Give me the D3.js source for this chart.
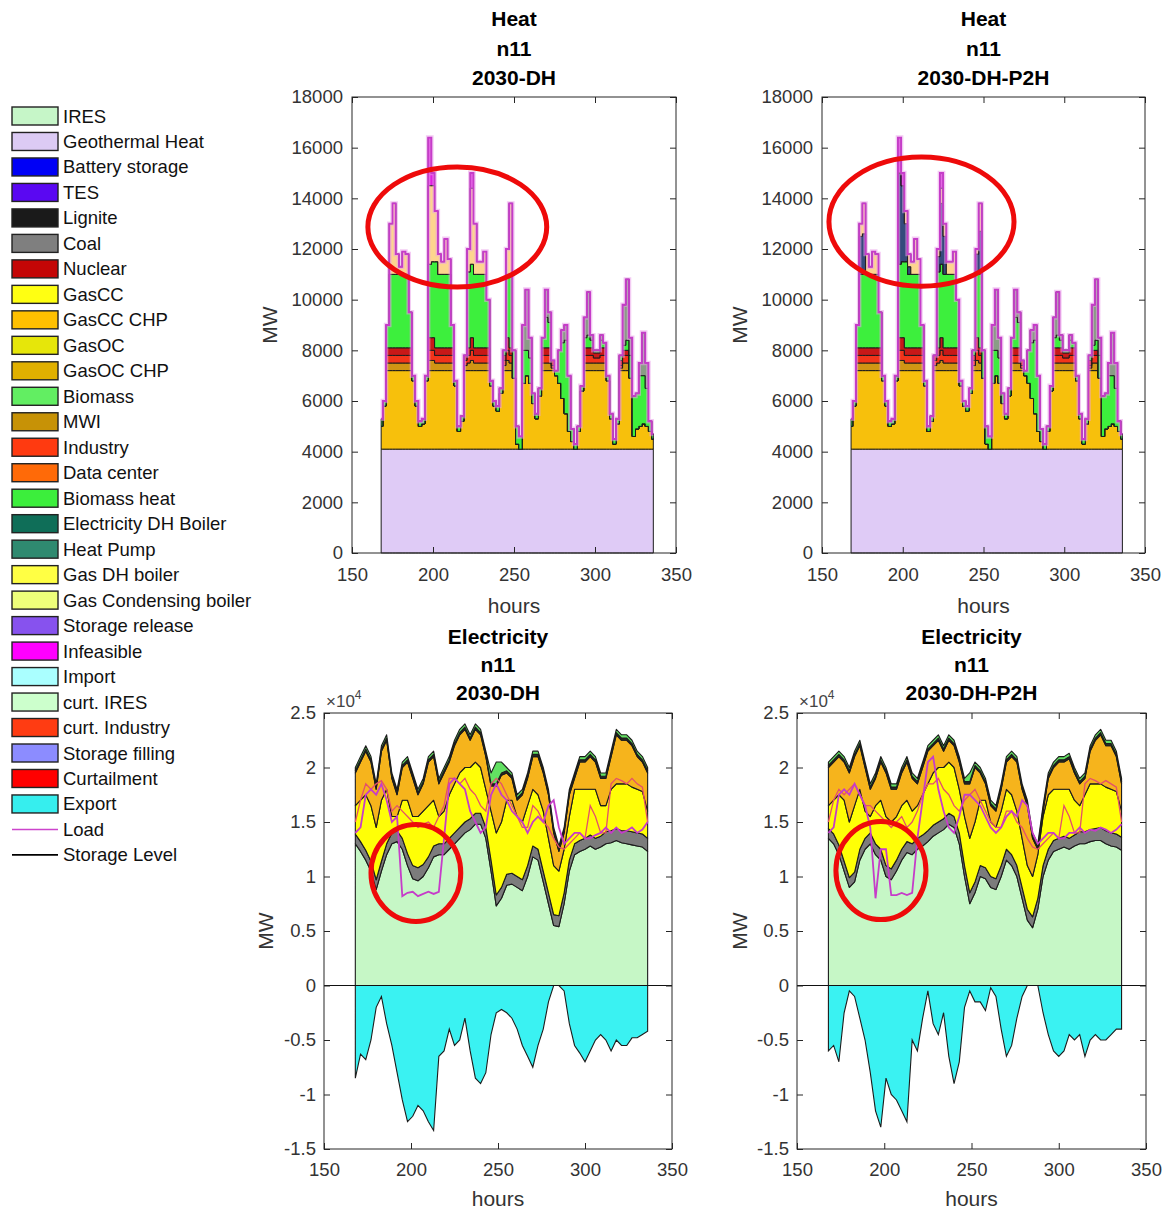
<!DOCTYPE html>
<html>
<head>
<meta charset="utf-8">
<script src="https://cdn.jsdelivr.net/npm/d3@7"></script>
<style>
  body { margin: 0; background: #fff; }
  svg text { font-family: "Liberation Sans", Arial, Helvetica, sans-serif; }
</style>
</head>
<body>
<script>
// ---------------- sample hours ----------------
const heatHours = d3.range(168, 337, 2);   // 2-hourly samples, week 2
const elecHours = d3.range(168, 337, 3);   // 3-hourly samples, week 2

// ---------------- heat balance, node n11 (MW) ----------------
const heatGeothermal = 4100;
const heatLoad = [
  5300,6000,9000,13000,13800,11800,11300,11900,11800,9500,
  7000,6000,5200,5300,7000,16400,15000,13500,11800,11500,
  12400,11600,9000,6800,5000,5400,7800,12000,15000,13000,
  11500,11500,11900,10000,6800,6000,5800,6500,8000,12000,
  13800,8000,5000,4600,9000,10400,8500,6300,5500,6500,
  8500,10400,9500,7600,7200,8000,8800,9000,7000,4900,
  4300,5000,6600,9300,10300,8600,8000,8000,8600,8300,
  7000,5500,4500,5300,7800,9800,10800,8500,6200,6300,
  7500,8700,7500,5200,4700];
const heatGasChp = [
  900,1700,3100,3100,3100,3100,3100,3100,3100,3100,
  2700,1700,900,1000,2700,3100,3100,3100,3100,3100,
  3100,3100,3100,2500,700,1100,3100,3100,3100,3100,
  3100,3100,3100,3100,2500,1700,1500,2200,3100,3100,
  3100,2800,200,0,2600,2900,2600,1800,1200,2100,
  3100,3100,3100,3100,2900,2600,2000,1400,700,300,
  0,700,2300,3100,3100,3100,3100,3100,3100,3100,
  2700,1200,200,1000,3100,3100,3100,2800,500,800,
  900,1000,900,700,400];
const heatMwi = [
  0,0,300,300,300,300,300,300,300,300,
  0,0,0,0,0,400,400,300,300,300,
  300,300,300,0,0,0,200,300,400,300,
  300,300,300,300,0,0,0,0,200,400,
  300,0,0,0,0,0,0,0,0,0,
  300,300,300,100,0,0,0,0,0,0,
  0,0,0,300,300,300,300,300,300,300,
  0,0,0,0,100,300,300,0,0,0,
  0,0,0,0,0];
const heatIndustry = [
  0,0,300,300,300,300,300,300,300,300,
  0,0,0,0,0,400,400,300,300,300,
  300,300,300,0,0,0,200,300,400,300,
  300,300,300,300,0,0,0,0,200,400,
  300,0,0,0,0,0,0,0,0,0,
  300,300,300,100,0,0,0,0,0,0,
  0,0,0,300,300,300,200,200,300,300,
  0,0,0,0,100,300,300,0,0,0,
  0,0,0,0,0];
const heatDataCenter = [
  0,0,300,300,300,300,300,300,300,300,
  0,0,0,0,0,500,500,300,300,300,
  300,300,300,0,0,0,200,300,500,300,
  300,300,300,300,0,0,0,0,200,500,
  300,0,0,0,0,0,0,0,0,0,
  300,300,300,200,0,0,0,0,0,0,
  0,0,0,300,300,300,200,200,300,300,
  0,0,0,0,200,200,200,0,0,0,
  0,0,0,0,0];
const heatBiomass = [
  300,200,900,2900,2900,2900,2900,2900,2900,1400,
  200,200,200,200,200,2900,3000,3400,2900,2900,
  2900,2900,900,200,200,200,0,3000,2900,2900,
  2900,2900,2900,1900,200,200,200,200,200,2500,
  2900,1100,700,500,1300,1000,1000,400,200,300,
  400,1200,1000,0,200,1300,2200,2900,2200,500,
  200,200,200,400,500,300,100,100,300,200,
  200,200,200,200,200,200,400,900,1600,1400,
  2000,1900,1500,400,200];
const heatPump = [
  0,0,0,0,0,0,0,0,0,0,
  0,0,0,0,0,0,0,0,0,0,
  0,0,0,0,0,0,0,0,0,0,
  0,0,0,0,0,0,0,0,0,0,
  0,0,0,0,1000,2400,800,0,0,0,
  0,1100,400,0,0,0,500,600,0,0,
  0,0,0,800,1700,200,0,0,200,0,
  0,0,0,0,0,1600,2400,700,0,0,
  500,1700,1000,0,0];
// peak supply, scenario 2030-DH
const heatGasBoilerDH = [
  0,0,0,2000,2800,800,300,900,800,0,
  0,0,0,0,0,3100,3000,2000,800,500,
  1400,600,0,0,0,0,0,900,3000,2000,
  500,500,900,0,0,0,0,0,0,1000,
  2800,0,0,0,0,0,0,0,0,0,
  0,0,0,0,0,0,0,0,0,0,
  0,0,0,0,0,0,0,0,0,0,
  0,0,0,0,0,0,0,0,0,0,
  0,0,0,0,0];
const heatInfeasibleDH = [
  0,0,0,0,0,0,0,0,0,0,
  0,0,0,0,0,1900,500,0,0,0,
  0,0,0,0,0,0,0,0,600,0,
  0,0,0,0,0,0,0,0,0,0,
  0,0,0,0,0,0,0,0,0,0,
  0,0,0,0,0,0,0,0,0,0,
  0,0,0,0,0,0,0,0,0,0,
  0,0,0,0,0,0,0,0,0,0,
  0,0,0,0,0];
// peak supply, scenario 2030-DH-P2H
const heatElecBoilerP2H = [
  0,0,0,1500,1600,0,0,0,0,0,
  0,0,0,0,0,3600,3000,1500,300,0,
  0,0,0,0,0,0,0,600,2400,1500,
  0,0,0,0,0,0,0,0,0,800,
  1700,0,0,0,0,0,0,0,0,0,
  0,0,0,0,0,0,0,0,0,0,
  0,0,0,0,0,0,0,0,0,0,
  0,0,0,0,0,0,0,0,0,0,
  0,0,0,0,0];
const heatGasBoilerP2H = [
  0,0,0,500,1200,800,300,900,800,0,
  0,0,0,0,0,0,0,500,500,500,
  1400,600,0,0,0,0,0,300,600,500,
  500,500,900,0,0,0,0,0,0,200,
  1100,0,0,0,0,0,0,0,0,0,
  0,0,0,0,0,0,0,0,0,0,
  0,0,0,0,0,0,0,0,0,0,
  0,0,0,0,0,0,0,0,0,0,
  0,0,0,0,0];
const heatInfeasibleP2H = [
  0,0,0,0,0,0,0,0,0,0,
  0,0,0,0,0,1400,500,0,0,0,
  0,0,0,0,0,0,0,0,600,0,
  0,0,0,0,0,0,0,0,0,0,
  0,0,0,0,0,0,0,0,0,0,
  0,0,0,0,0,0,0,0,0,0,
  0,0,0,0,0,0,0,0,0,0,
  0,0,0,0,0,0,0,0,0,0,
  0,0,0,0,0];

// ---------------- electricity balance, node n11 (MW) ----------------
// scenario 2030-DH
const elecIresDH = [
  13000,12300,11500,10500,8800,10500,12000,13000,13200,12500,
  11000,9800,9600,10000,10800,11800,12000,12000,12500,13000,
  13500,14000,14300,14800,14800,13500,10500,7300,8000,9200,
  9300,9000,8700,10000,11800,11500,9500,7500,5500,5400,
  7500,10500,12000,12300,12500,12800,12500,12700,13000,13100,
  13300,13100,13000,12900,12800,12700,12300];
const elecCoalDH = [
  900,900,900,900,900,900,1000,1000,1000,1000,
  1100,1200,1200,1100,1000,1000,1000,1000,1000,1000,
  1000,1000,1000,1000,1000,1000,1000,1000,1000,1000,
  1000,1000,1000,1000,1000,1000,1000,1000,1000,1000,
  1000,1000,1000,1000,1000,1000,1000,1000,1100,1100,
  1100,1100,1200,1200,1200,1200,1200];
const elecGasCCDH = [
  2600,3800,5100,5100,4800,5600,5000,1500,1300,3500,
  4900,4500,4700,4900,4700,4200,2500,3000,4000,4500,
  5000,5000,4700,4700,4200,3500,4500,5700,6000,6800,
  6700,5500,5300,5500,5200,5000,5500,5000,4500,4100,
  4000,4000,5000,4700,4500,4200,4500,2800,2400,3800,
  4100,4300,4300,4100,4000,3900,2500];
const elecGasChpDH = [
  3000,3500,4000,4000,3500,4500,4500,3500,2000,3000,
  3500,3500,2000,2500,4000,4000,3000,3500,3000,3500,
  3500,3500,2500,3000,3000,3000,2300,4300,4300,2500,
  2000,1500,2500,2500,3000,3500,3500,4000,3000,1800,
  1500,2000,1000,2500,2500,3000,2500,2500,2500,3000,
  4500,4000,4000,3800,3000,2700,3500];
const elecLigniteDH = [
  200,200,200,200,200,200,200,200,200,200,
  200,200,200,200,200,200,200,200,200,200,
  200,200,200,200,200,200,200,200,200,200,
  200,200,200,200,200,200,200,200,200,200,
  200,200,200,200,200,200,200,200,200,200,
  200,200,200,200,200,200,200];
const elecBiomassDH = [
  300,300,300,300,300,300,300,300,300,300,
  300,300,300,300,300,300,300,300,300,300,
  300,300,300,300,300,300,1000,2000,1000,300,
  300,300,300,300,300,300,300,300,300,300,
  300,300,300,300,300,300,300,300,300,300,
  300,300,300,300,300,300,300];
const elecExportDH = [
  -8500,-6300,-6800,-5000,-2000,-1000,-3500,-5500,-8000,-10500,
  -12500,-12000,-11000,-11500,-12500,-13300,-6500,-6000,-4000,-5500,
  -5000,-3000,-6000,-8500,-9000,-8000,-4500,-2500,-2200,-2500,
  -3000,-4000,-5500,-6500,-7500,-5500,-4000,-1500,0,0,
  -500,-3500,-5500,-6200,-7000,-6000,-5000,-4500,-5000,-6000,
  -5000,-5500,-5500,-4800,-4800,-4500,-4200];
const elecLoadDH = [
  14000,14500,17500,18000,17500,18500,17000,15000,15500,8200,
  8500,8600,8200,8400,8600,8400,8600,13500,18500,19000,
  18500,18000,16000,15000,14000,14500,17500,18500,17500,17000,
  16000,15500,15000,14000,15000,15500,15000,16500,17000,14500,
  13000,13500,14000,14000,13500,13500,13800,14000,14500,14000,
  14500,14000,14200,14500,14000,14300,15000];
const elecDemandDH = [
  15000,17000,18500,18000,18500,18800,18000,16000,16500,16000,
  15500,15000,14500,14800,15000,14500,15500,16500,19000,19000,
  18500,19000,18000,17500,16500,16000,18500,19000,18500,17500,
  16500,15500,14500,14500,16500,16000,15000,14500,13500,12700,
  12500,13000,13500,14000,13500,16500,15500,14000,14000,18500,
  19000,18800,18500,19000,18500,18200,15000];

// scenario 2030-DH-P2H
const elecIresP2H = [
  13500,13000,12000,10500,9000,9500,11500,12500,13000,12000,
  11500,10000,9700,10500,11500,12200,12000,12500,12800,13200,
  13700,14000,14300,14800,14500,13000,10000,7500,8500,10000,
  9800,9000,8800,10000,11500,11000,10000,8000,6000,5300,
  7000,10000,11500,12300,12500,12700,12500,12800,13000,13000,
  13200,13300,13300,13000,12800,12700,12400];
const elecCoalP2H = [
  900,900,900,900,900,900,1000,1000,1000,1000,
  1000,1000,1000,1000,1000,1000,1000,1000,1000,1000,
  1000,1000,1000,1000,1000,1000,1000,1000,1000,1000,
  1000,1000,1000,1000,1000,1000,1000,1000,1000,1000,
  1000,1000,1000,1000,1000,1000,1000,1000,1100,1100,
  1100,1100,1200,1200,1200,1200,1200];
const elecGasCCP2H = [
  2100,3100,4600,5600,5100,6100,5500,2500,1500,3500,
  4500,4500,4300,4000,4000,3800,3000,3000,3700,4300,
  4800,5000,4700,4700,4500,4000,4500,5000,5500,6000,
  6200,5000,4700,5000,5500,5500,5000,4500,4000,3700,
  4000,4500,5000,4700,4500,4300,4500,3200,2400,3400,
  4200,4100,4000,4000,4000,3900,2400];
const elecGasChpP2H = [
  3500,3500,3500,3500,4500,4500,4000,4000,2500,2500,
  3500,4000,3000,2500,3000,3500,3000,2000,2500,3000,
  2500,2500,1500,2000,2000,2500,3000,5000,5000,2500,
  1500,1500,1500,2000,2500,3500,4500,4500,5500,3500,
  500,500,1500,2000,2500,2500,2800,2500,2000,1500,
  3000,4000,4500,3800,4000,3200,2500];
const elecLigniteP2H = [
  200,200,200,200,200,200,200,200,200,200,
  200,200,200,200,200,200,200,200,200,200,
  200,200,200,200,200,200,200,200,200,200,
  200,200,200,200,200,200,200,200,200,200,
  200,200,200,200,200,200,200,200,200,200,
  200,200,200,200,200,200,200];
const elecBiomassP2H = [
  300,300,300,300,300,300,300,300,300,300,
  300,300,300,300,300,300,300,300,300,300,
  300,300,300,300,300,300,300,800,300,300,
  300,300,300,300,300,300,300,300,300,300,
  300,300,300,300,300,300,300,300,300,300,
  300,300,300,300,300,300,300];
const elecExportP2H = [
  -6000,-5500,-7000,-2500,-500,-1000,-3000,-5000,-8000,-11500,
  -13000,-8500,-10000,-10500,-11500,-12500,-5000,-6000,-3000,-500,
  -3500,-4500,-2500,-6500,-9000,-7000,-2000,-500,-1500,-1500,
  -2300,-200,-1000,-4000,-6500,-5500,-3000,-1000,0,0,
  0,-2500,-4500,-6000,-6500,-6000,-4500,-5000,-4500,-6500,
  -5000,-4500,-5000,-5000,-4500,-4000,-4000];
const elecLoadP2H = [
  14000,14500,17500,18000,17500,18500,17500,16500,14500,8000,
  12500,12500,8300,8300,8500,8300,8500,13500,17000,20500,
  21000,18000,16000,14500,14000,15500,17500,17500,17000,16500,
  15500,14500,14000,14500,15500,16000,15500,17000,16500,14000,
  13000,13500,14000,14000,13500,13500,14000,14000,14500,14000,
  14300,14200,14500,14300,14000,14300,14800];
const elecDemandP2H = [
  15000,17000,18000,17500,18000,18500,17500,16500,16500,16000,
  15500,15000,14500,15000,15500,14500,15000,16000,17500,18500,
  18500,19000,18000,17500,16500,16000,17000,17500,18000,17000,
  16000,15000,14500,14500,16000,16000,15000,14500,13500,12700,
  12500,13000,13500,14000,13500,16500,15500,14000,14000,18500,
  19000,18800,18500,18800,18500,18200,15000];

// ---------------- axis ticks ----------------
const hourTicks = [150, 200, 250, 300, 350];
const heatTicks = [0, 2000, 4000, 6000, 8000, 10000, 12000, 14000, 16000, 18000];
const elecTicks = [-15000, -10000, -5000, 0, 5000, 10000, 15000, 20000, 25000];

// ---------------- legend ----------------
const legendNames = ["IRES","Geothermal Heat","Battery storage","TES","Lignite","Coal","Nuclear",
  "GasCC","GasCC CHP","GasOC","GasOC CHP","Biomass","MWI","Industry","Data center",
  "Biomass heat","Electricity DH Boiler","Heat Pump","Gas DH boiler","Gas Condensing boiler",
  "Storage release","Infeasible","Import","curt. IRES","curt. Industry","Storage filling",
  "Curtailment","Export","Load","Storage Level"];
const legendColors = ["#c6f6c8","#dccbf4","#0000f6","#5a08f2","#1a1a1a","#7f7f7f","#c40606",
  "#ffff12","#ffc000","#e6e60a","#e0b000","#62ee62","#c79206","#ff3a10","#ff6a08",
  "#3cee3c","#0f6e58","#2f8a70","#ffff44","#eeff7a",
  "#8752ee","#ff00ff","#aaffff","#ccffcc","#ff3c12","#8c8cff",
  "#ff0000","#36eeee","#cc44cc","#000000"];
const legendLineItems = ["Load", "Storage Level"];

// ---------------- layer colours inside the panels ----------------
const col = {
  geo: "#dfcbf6", gasChp: "#f7c00c", mwi: "#d09614", industry: "#f2341a", dataCenter: "#c81818",
  bioHeat: "#3def3d", heatPump: "#8a9c86", gasBoiler: "#fdd58e", elecBoiler: "#354a7c",
  infeasible: "#e01fe0", ires: "#c6f7c6", coal: "#7c7c7c", gasCC: "#ffff06", gasCCChp: "#f6b41c",
  lignite: "#2a2a22", biomass: "#62e062", exportFill: "#3af2f2", load: "#c63cc9", demand: "#e4506a"
};

const svg = d3.select("body").append("svg").attr("width", 1165).attr("height", 1209);
const FONT = '"Liberation Sans", Arial, Helvetica, sans-serif';

function heatLayers(peak) {
  return [
    { key: "geo", color: col.geo, values: heatHours.map(() => heatGeothermal) },
    { key: "gasChp", color: col.gasChp, values: heatGasChp },
    { key: "mwi", color: col.mwi, values: heatMwi },
    { key: "industry", color: col.industry, values: heatIndustry },
    { key: "dataCenter", color: col.dataCenter, values: heatDataCenter },
    { key: "bioHeat", color: col.bioHeat, values: heatBiomass },
    { key: "heatPump", color: col.heatPump, values: heatPump }
  ].concat(peak);
}

const panels = [
  { kind: "heat", frame: { left: 352, right: 676, top: 97, bottom: 553 },
    titles: ["Heat", "n11", "2030-DH"], titleY: [26, 56, 85], xlabelY: 613, ylabelX: 270,
    layers: heatLayers([
      { key: "gasBoiler", color: col.gasBoiler, values: heatGasBoilerDH },
      { key: "infeasible", color: col.infeasible, values: heatInfeasibleDH }]),
    load: heatLoad,
    ring: { hour: 215, value: 12870, spanH: 55.2, spanV: 2370 } },
  { kind: "heat", frame: { left: 822, right: 1145, top: 97, bottom: 553 },
    titles: ["Heat", "n11", "2030-DH-P2H"], titleY: [26, 56, 85], xlabelY: 613, ylabelX: 740,
    layers: heatLayers([
      { key: "elecBoiler", color: col.elecBoiler, values: heatElecBoilerP2H },
      { key: "gasBoiler", color: col.gasBoiler, values: heatGasBoilerP2H },
      { key: "infeasible", color: col.infeasible, values: heatInfeasibleP2H }]),
    load: heatLoad,
    ring: { hour: 211.6, value: 13080, spanH: 57.3, spanV: 2550 } },
  { kind: "elec", frame: { left: 324, right: 672, top: 713, bottom: 1149 },
    titles: ["Electricity", "n11", "2030-DH"], titleY: [644, 672, 700], xlabelY: 1206, ylabelX: 266,
    layers: [
      { key: "ires", color: col.ires, values: elecIresDH },
      { key: "coal", color: col.coal, values: elecCoalDH },
      { key: "gasCC", color: col.gasCC, values: elecGasCCDH },
      { key: "gasCCChp", color: col.gasCCChp, values: elecGasChpDH },
      { key: "lignite", color: col.lignite, values: elecLigniteDH },
      { key: "biomass", color: col.biomass, values: elecBiomassDH }],
    exportVals: elecExportDH, load: elecLoadDH, demand: elecDemandDH,
    ring: { hour: 202.8, value: 10320, spanH: 25.8, spanV: 4450 } },
  { kind: "elec", frame: { left: 797, right: 1146, top: 713, bottom: 1149 },
    titles: ["Electricity", "n11", "2030-DH-P2H"], titleY: [644, 672, 700], xlabelY: 1206, ylabelX: 740,
    layers: [
      { key: "ires", color: col.ires, values: elecIresP2H },
      { key: "coal", color: col.coal, values: elecCoalP2H },
      { key: "gasCC", color: col.gasCC, values: elecGasCCP2H },
      { key: "gasCCChp", color: col.gasCCChp, values: elecGasChpP2H },
      { key: "lignite", color: col.lignite, values: elecLigniteP2H },
      { key: "biomass", color: col.biomass, values: elecBiomassP2H }],
    exportVals: elecExportP2H, load: elecLoadP2H, demand: elecDemandP2H,
    ring: { hour: 198.1, value: 10550, spanH: 25.8, spanV: 4500 } }
];

panels.forEach(p => {
  const f = p.frame;
  const heat = p.kind === "heat";
  const hours = heat ? heatHours : elecHours;
  // heat dispatch drawn as hourly stairs, power balance as a continuous trace
  const curve = heat ? d3.curveStep : d3.curveLinear;
  const x = d3.scaleLinear().domain([150, 350]).range([f.left, f.right]);
  const y = d3.scaleLinear().domain(heat ? [0, 18000] : [-15000, 25000]).range([f.bottom, f.top]);
  const g = svg.append("g");

  // stacked supply
  const rows = hours.map((h, i) => {
    const r = { hour: h };
    p.layers.forEach(l => { r[l.key] = l.values[i]; });
    return r;
  });
  const series = d3.stack().keys(p.layers.map(l => l.key))(rows);
  const area = d3.area().curve(curve)
    .x(d => x(d.data.hour)).y0(d => y(d[0])).y1(d => y(d[1]));
  g.append("g").selectAll("path").data(series).join("path")
    .attr("d", area)
    .attr("fill", (d, i) => p.layers[i].color)
    .attr("stroke", "#1c1c1c").attr("stroke-width", heat ? 1 : 1.1)
    .attr("stroke-linejoin", "round");

  const line = d3.line().curve(curve).x((d, i) => x(hours[i])).y(d => y(d));
  if (!heat) {
    // export below zero
    const exp = d3.area().curve(curve).x((d, i) => x(hours[i])).y0(y(0)).y1(d => y(d));
    g.append("path").attr("d", exp(p.exportVals))
      .attr("fill", col.exportFill).attr("stroke", "#1c1c1c").attr("stroke-width", 1.1);
    g.append("path").attr("d", line(p.demand)).attr("fill", "none")
      .attr("stroke", col.demand).attr("stroke-width", 1.3);
    g.append("path").attr("d", line(p.load)).attr("fill", "none")
      .attr("stroke", col.load).attr("stroke-width", 1.8);
    g.append("line").attr("x1", f.left).attr("x2", f.right).attr("y1", y(0)).attr("y2", y(0))
      .attr("stroke", "#111").attr("stroke-width", 1.2);
  } else {
    g.append("path").attr("d", line(p.load)).attr("fill", "none")
      .attr("stroke", "#eaa0ea").attr("stroke-width", 4.5).attr("stroke-opacity", 0.55);
    g.append("path").attr("d", line(p.load)).attr("fill", "none")
      .attr("stroke", col.load).attr("stroke-width", 1.8);
  }

  // axes (box with inward ticks on all four sides)
  const ax = g.append("g");
  const yFmt = heat ? (d => String(d)) : (d => String(+(d / 10000).toFixed(1)));
  ax.append("g").attr("transform", `translate(0,${f.bottom})`)
    .call(d3.axisBottom(x).tickValues(hourTicks).tickSizeInner(-6).tickSizeOuter(0).tickPadding(heat ? 15 : 14));
  ax.append("g").attr("transform", `translate(0,${f.top})`)
    .call(d3.axisTop(x).tickValues(hourTicks).tickSizeInner(-6).tickSizeOuter(0).tickFormat(""));
  ax.append("g").attr("transform", `translate(${f.left},0)`)
    .call(d3.axisLeft(y).tickValues(heat ? heatTicks : elecTicks).tickSizeInner(-6).tickSizeOuter(0)
      .tickPadding(heat ? 9 : 8).tickFormat(yFmt));
  ax.append("g").attr("transform", `translate(${f.right},0)`)
    .call(d3.axisRight(y).tickValues(heat ? heatTicks : elecTicks).tickSizeInner(-6).tickSizeOuter(0).tickFormat(""));
  ax.selectAll(".domain").remove();
  ax.selectAll("line").attr("stroke", "#262626");
  ax.selectAll("text").attr("font-size", 18.5).attr("fill", "#333").attr("font-family", FONT);
  g.append("rect").attr("x", f.left).attr("y", f.top)
    .attr("width", f.right - f.left).attr("height", f.bottom - f.top)
    .attr("fill", "none").attr("stroke", "#262626").attr("stroke-width", 1);

  if (!heat) {
    const t = g.append("text").attr("x", f.left + 2).attr("y", f.top - 6)
      .attr("font-size", 17).attr("fill", "#444").attr("font-family", FONT);
    t.append("tspan").text("\u00d710");
    t.append("tspan").attr("dy", -8).attr("font-size", 12).text("4");
  }

  // titles and labels
  const cx = (f.left + f.right) / 2;
  p.titles.forEach((s, i) => {
    g.append("text").attr("x", cx).attr("y", p.titleY[i]).attr("text-anchor", "middle")
      .attr("font-size", 21).attr("font-weight", "bold").attr("fill", "#000")
      .attr("font-family", FONT).text(s);
  });
  g.append("text").attr("x", cx).attr("y", p.xlabelY).attr("text-anchor", "middle")
    .attr("font-size", 21).attr("fill", "#333").attr("font-family", FONT).text("hours");
  const cy = (f.top + f.bottom) / 2;
  g.append("text").attr("transform", `translate(${p.ylabelX},${cy}) rotate(-90)`)
    .attr("text-anchor", "middle").attr("dy", "0.35em")
    .attr("font-size", 21).attr("fill", "#333").attr("font-family", FONT).text("MW");

  // highlight ring
  const r = p.ring;
  g.append("ellipse").attr("cx", x(r.hour)).attr("cy", y(r.value))
    .attr("rx", x(r.hour + r.spanH) - x(r.hour)).attr("ry", y(r.value - r.spanV) - y(r.value))
    .attr("fill", "none").attr("stroke", "#ee0a0a").attr("stroke-width", 5);
});

// legend
const lg = svg.append("g");
legendNames.forEach((name, i) => {
  const cy = 116 + i * 25.48;
  if (legendLineItems.includes(name)) {
    lg.append("line").attr("x1", 12).attr("x2", 58).attr("y1", cy).attr("y2", cy)
      .attr("stroke", legendColors[i]).attr("stroke-width", 1.6);
  } else {
    lg.append("rect").attr("x", 12).attr("y", cy - 9).attr("width", 46).attr("height", 18)
      .attr("fill", legendColors[i]).attr("stroke", "#222").attr("stroke-width", 1.4);
  }
  lg.append("text").attr("x", 63).attr("y", cy + 6.5).attr("font-size", 18.5)
    .attr("fill", "#111").attr("font-family", FONT).text(name);
});
</script>
</body>
</html>
